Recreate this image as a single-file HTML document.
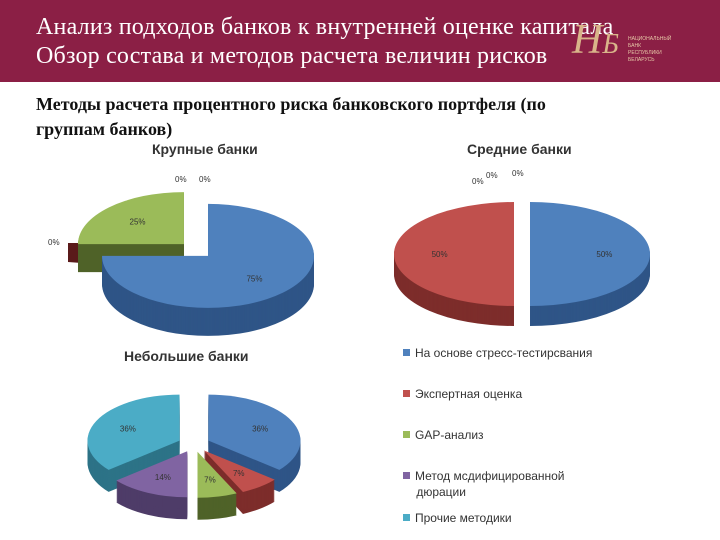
<!DOCTYPE html>
<html><head><meta charset="utf-8">
<style>
body{margin:0;width:720px;height:540px;background:#fff;overflow:hidden;position:relative;font-family:"Liberation Sans","DejaVu Sans",sans-serif}
.hdr{position:absolute;left:0;top:0;width:720px;height:82px;background:#8b1f45}
.t{position:absolute;color:#fff;font-family:"Liberation Serif",serif;font-size:24px;left:36px;white-space:nowrap;letter-spacing:0.2px}
.sub{position:absolute;left:36px;top:92px;font-family:"Liberation Serif",serif;font-weight:bold;font-size:18px;line-height:25px;color:#111;width:575px}
.ct{position:absolute;font-weight:bold;font-size:14px;color:#333;white-space:nowrap}
.lg{position:absolute;left:403px;font-size:12px;color:#333;line-height:16px}
.lg span{display:inline-block;width:7px;height:7px;margin-right:5px;vertical-align:1px}
</style></head><body>
<div class="hdr">
<div class="t" style="top:14px">Анализ подходов банков к внутренней оценке капитала</div>
<div class="t" style="top:43px">Обзор состава и методов расчета величин рисков</div>
<div style="position:absolute;left:572px;top:16px;font-family:'Liberation Serif',serif;font-style:italic;font-size:42px;color:#d9b58a">Н<span style="font-size:28px">Б</span></div>
<div style="position:absolute;left:628px;top:36px;font-size:5px;line-height:7px;color:#e8c9a8">НАЦИОНАЛЬНЫЙ<br>БАНК<br>РЕСПУБЛИКИ<br>БЕЛАРУСЬ</div>
</div>
<div class="sub">Методы расчета процентного риска банковского портфеля (по группам банков)</div>
<div class="ct" style="left:152px;top:141px">Крупные банки</div>
<div class="ct" style="left:467px;top:141px">Средние банки</div>
<div class="ct" style="left:124px;top:348px">Небольшие банки</div>
<div class="lg" style="top:345px"><span style="background:#4f81bd"></span>На основе стресс-тестирсвания</div>
<div class="lg" style="top:386px"><span style="background:#c0504d"></span>Экспертная оценка</div>
<div class="lg" style="top:427px"><span style="background:#9bbb59"></span>GAP-анализ</div>
<div class="lg" style="top:468px"><span style="background:#8064a2"></span>Метод мсдифицированной<br>&nbsp;&nbsp;&nbsp;&nbsp;дюрации</div>
<div class="lg" style="top:510px"><span style="background:#4bacc6"></span>Прочие методики</div>
<svg id="s" width="720" height="540" style="position:absolute;left:0;top:0"></svg>
<script>
const largeValues=[75,0,25,0,0];
const mediumValues=[50,50,0,0,0];
const smallValues=[36,7,7,14,36];
const tops=['#4f81bd','#c0504d','#9bbb59','#8064a2','#4bacc6'];
const walls=['#2f5587','#7d2d2b','#4f6228','#4e3c68','#2d7387'];
const svg=document.getElementById('s');
const NS='http://www.w3.org/2000/svg';
function sector(cx,cy,rx,ry,a0,a1){
  const p=a=>[cx+rx*Math.sin(a),cy-ry*Math.cos(a)];
  const s=p(a0),e=p(a1),big=(a1-a0)>Math.PI?1:0;
  return `M${cx},${cy}L${s[0]},${s[1]}A${rx},${ry} 0 ${big} 1 ${e[0]},${e[1]}Z`;
}
function pie(vals,cx,cy,rx,ry,depth,ex,name){
  const tot=vals.reduce((a,b)=>a+b,0);let a=0;const sl=[];
  vals.forEach((v,i)=>{const a0=a,a1=a+v/tot*2*Math.PI;a=a1;if(v<=0)return;
    const m=(a0+a1)/2;sl.push({i,v,a0,a1,m,ox:ex*Math.sin(m),oy:-ex*ry/rx*Math.cos(m)});});
  sl.sort((p,q)=>(-Math.cos(p.m))-(-Math.cos(q.m)));
  sl.forEach(s=>{
    const g=document.createElementNS(NS,'g');
    
    
    const x=cx+s.ox,y=cy+s.oy;
    for(let d=depth;d>0;d--){const w=document.createElementNS(NS,'path');
      w.setAttribute('d',sector(x,y+d,rx,ry,s.a0,s.a1));w.setAttribute('fill',walls[s.i]);g.appendChild(w);}
    const t=document.createElementNS(NS,'path');
    t.setAttribute('d',sector(x,y,rx,ry,s.a0,s.a1));t.setAttribute('fill',tops[s.i]);g.appendChild(t);
    const tx=document.createElementNS(NS,'text');
    
    
    tx.setAttribute('x',x+0.62*rx*Math.sin(s.m));tx.setAttribute('y',y-0.62*ry*Math.cos(s.m)+3);
    tx.setAttribute('text-anchor','middle');tx.setAttribute('font-size','8');tx.setAttribute('fill','#333');
    tx.textContent=s.v+'%';g.appendChild(tx);svg.appendChild(g);
  });
}
pie(largeValues,196,250,106,52,28,17,'large');
pie(mediumValues,522,254,120,52,20,8,'medium');
pie(smallValues,194,444,92,46,22,16,'small');
function lbl(x,y,t,n){const e=document.createElementNS(NS,'text');


e.setAttribute('x',x);e.setAttribute('y',y);e.setAttribute('font-size','8');e.setAttribute('fill','#333');e.textContent=t;svg.appendChild(e);}
lbl(175,182,'0%','large-zero-label-1');lbl(199,182,'0%','large-zero-label-2');lbl(48,245,'0%','large-zero-label-3');
lbl(486,178,'0%','medium-zero-label-1');lbl(512,176,'0%','medium-zero-label-2');lbl(472,184,'0%','medium-zero-label-3');
const r=document.createElementNS(NS,'path');


r.setAttribute('d','M68,243L170,243L170,257L108,257L108,265L68,262Z');r.setAttribute('fill','#5a1a1a');svg.insertBefore(r,svg.firstChild);
</script>
</body></html>
